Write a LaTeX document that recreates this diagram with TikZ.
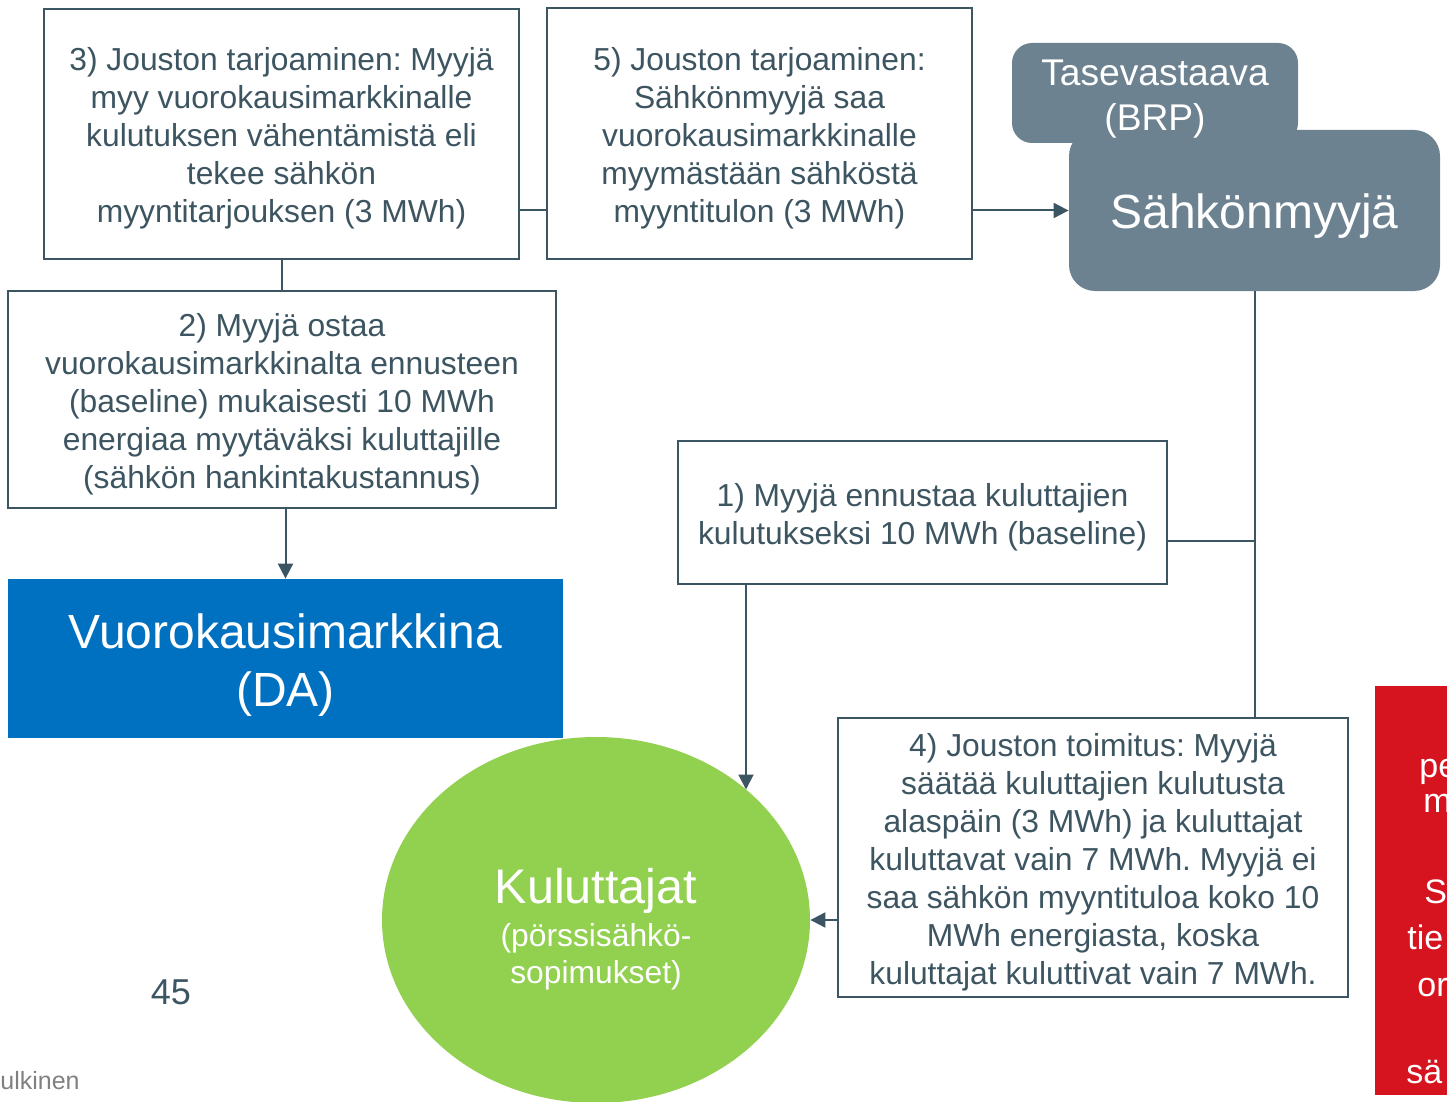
\documentclass[tikz,border=0pt]{standalone}
\usepackage{fontspec}
\setmainfont{Liberation Sans}
\frenchspacing
\usetikzlibrary{shapes.geometric,arrows.meta,calc}
\definecolor{slate}{HTML}{6D8290}
\definecolor{lin}{HTML}{3C5562}
\definecolor{txt}{HTML}{3D5561}
\definecolor{dablue}{HTML}{0070C0}
\definecolor{kgreen}{HTML}{92D050}
\definecolor{kred}{HTML}{D6141F}
\newcommand{\topst}[1]{\rule{0pt}{#1}}
\tikzset{
  infobox/.style={draw=lin, line width=1.2pt, fill=white, text=txt, align=center,
    font=\fontsize{15.9}{19}\selectfont, inner sep=0pt},
  conn/.style={draw=lin, line width=1pt},
  arr/.style={conn, -{Triangle[width=7.5pt,length=7.5pt]}},
  redtxt/.style={text=white, anchor=base west, inner sep=0pt, font=\fontsize{17}{20}\selectfont},
}
\begin{document}
\begin{tikzpicture}[x=0.5pt,y=-0.5pt]
\useasboundingbox (0,0) rectangle (1447,1102);
% red box at right edge
\fill[kred] (1375,686) rectangle (1470,1095);
\node[redtxt] (r1) at (1419,777) {pe};
\node[redtxt] (r2) at (1423,812) {m};
\node[redtxt] (r3) at (1424,903) {S};
\node[redtxt] (r4) at (1407,949) {tie};
\node[redtxt] (r5) at (1417,996) {or};
\node[redtxt] (r6) at (1406,1083) {sä};

% boxes
\node[infobox, minimum width=237.5pt, minimum height=125pt] (b3) at (281.5,134)
  {\topst{15.5pt}3) Jouston tarjoaminen: Myyjä\\ myy vuorokausimarkkinalle\\ kulutuksen vähentämistä eli\\ tekee sähkön\\ myyntitarjouksen (3 MWh)};
\node[infobox, minimum width=212.5pt, minimum height=125.5pt] (b5) at (759.5,133.5)
  {\topst{16pt}5) Jouston tarjoaminen:\\ Sähkönmyyjä saa\\ vuorokausimarkkinalle\\ myymästään sähköstä\\ myyntitulon (3 MWh)};
\node[infobox, minimum width=274pt, minimum height=108.5pt] (b2) at (282,399.5)
  {\topst{16pt}2) Myyjä ostaa\\ vuorokausimarkkinalta ennusteen\\ (baseline) mukaisesti 10 MWh\\ energiaa myytäväksi kuluttajille\\ (sähkön hankintakustannus)};
\node[infobox, minimum width=244.5pt, minimum height=71.5pt] (b1) at (922.5,512.5)
  {\topst{16.5pt}1) Myyjä ennustaa kuluttajien\\ kulutukseksi 10 MWh (baseline)};
\node[infobox, minimum width=255pt, minimum height=139.5pt] (b4) at (1093,857.5)
  {\topst{16.5pt}4) Jouston toimitus: Myyjä\\ säätää kuluttajien kulutusta\\ alaspäin (3 MWh) ja kuluttajat\\ kuluttavat vain 7 MWh. Myyjä ei\\ saa sähkön myyntituloa koko 10\\ MWh energiasta, koska\\ kuluttajat kuluttivat vain 7 MWh.};

% seller boxes (BRP drawn last so its text stays visible; same fill colour)
\node[fill=slate, rounded corners=13pt, minimum width=185.5pt, minimum height=80.5pt, text=white,
  inner sep=0pt, text height=22.5pt, text depth=5pt, font=\fontsize{24}{28}\selectfont] (sah) at (1254.5,210.5) {Sähkönmyyjä};
\node[fill=slate, rounded corners=10pt, minimum width=143pt, minimum height=50pt, text=white,
  align=center, inner sep=0pt, font=\fontsize{18.6}{22.5}\selectfont] (tase) at (1155,93)
  {\topst{18.5pt}Tasevastaava\\ (BRP)};

% day-ahead market
\node[fill=dablue, minimum width=277.5pt, minimum height=79.5pt, text=white, align=center,
  inner sep=0pt, font=\fontsize{24}{29}\selectfont] (da) at (285.5,658.5)
  {\topst{24pt}Vuorokausimarkkina\\ (DA)};

% consumers
\node[ellipse, fill=kgreen, minimum width=214pt, minimum height=183pt, inner sep=0pt] (kul) at (596,920) {};
\node[text=white, inner sep=0pt, font=\fontsize{24.3}{28}\selectfont] (kt) at (596,891) {Kuluttajat};
\node[text=white, inner sep=0pt, align=center, font=\fontsize{15.9}{18.5}\selectfont] (ks) at (596,957)
  {(pörssisähkö-\\ sopimukset)};

% footer
\node[text=lin, inner sep=0pt, font=\fontsize{18}{22}\selectfont] (num) at (171,992) {45};
\node[text=gray, anchor=east, inner sep=0pt, font=\fontsize{12.5}{15}\selectfont] (jul) at (80,1081) {ulkinen};

% connectors
\coordinate (k1) at (746,789.5);
\draw[conn] (b3.south -| b2.north) -- (b2.north);
\draw[arr] (b2.south -| da.north) -- (da.north);
\draw[conn] (b3.east |- sah.west) -- (b5.west |- sah.west);
\draw[arr] (b5.east |- sah.west) -- (sah.west);
\draw[conn] (sah.south) -- (sah.south |- b4.north);
\draw[conn] ($(b1.east)+(0,28.5)$) -- ($(b1.east -| sah.south)+(0,28.5)$);
\draw[arr] (b1.south -| k1) -- (k1);
\draw[arr] (b4.west |- kul.east) -- (kul.east);
\end{tikzpicture}
\end{document}
